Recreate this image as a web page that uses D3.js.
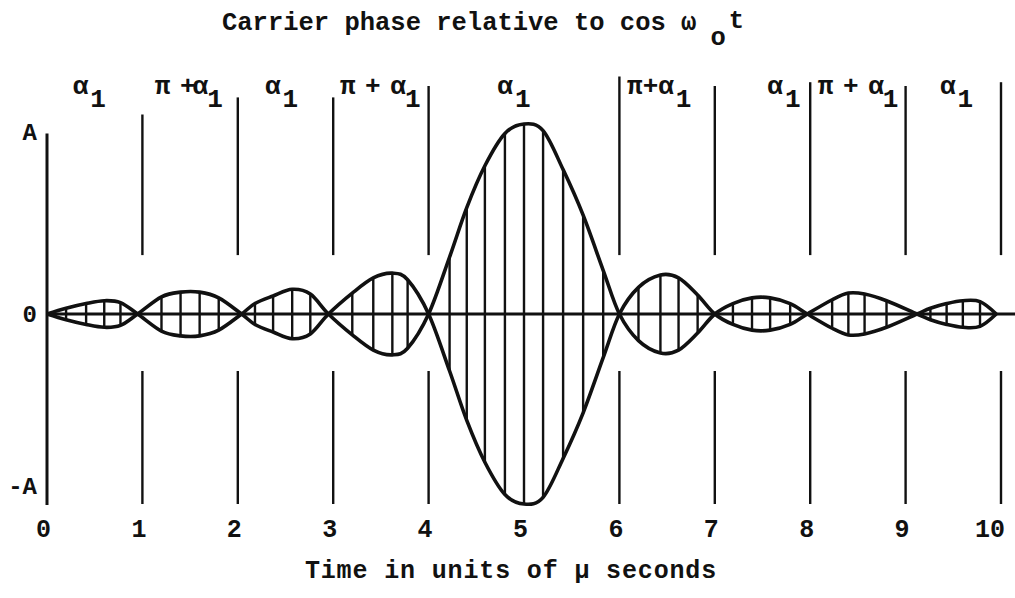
<!DOCTYPE html>
<html>
<head>
<meta charset="utf-8">
<script src="https://cdn.jsdelivr.net/npm/d3@7"></script>
<style>
  html, body { margin: 0; padding: 0; background: #fff; }
  svg { display: block; }
  text { font-family: "Liberation Mono", "Courier New", monospace; font-weight: bold; fill: #111; }
</style>
</head>
<body>
<svg id="chart" width="1015" height="598"></svg>
<script>
// Envelope knots: time in µs and signed envelope amplitude (in units of A).
// Each non-zero knot is also one carrier cycle drawn as a vertical stroke.
const envTime = [
  0, 0.2, 0.41, 0.6, 0.77, 0.95,
  1.2, 1.4, 1.6, 1.8, 2.04,
  2.18, 2.37, 2.57, 2.76, 2.95,
  3.2, 3.42, 3.62, 3.78, 4.0,
  4.22, 4.4, 4.59, 4.8, 5.0, 5.2, 5.41, 5.62, 5.83, 6.0,
  6.2, 6.43, 6.62, 6.82, 7.0,
  7.19, 7.39, 7.58, 7.79, 7.97,
  8.23, 8.4, 8.57, 8.8, 9.12,
  9.26, 9.43, 9.6, 9.78, 9.95
];
const envAmp = [
  0, 0.03, 0.055, 0.07, 0.06, 0,
  -0.09, -0.115, -0.115, -0.085, 0,
  0.055, 0.095, 0.13, 0.105, 0,
  -0.11, -0.19, -0.215, -0.18, 0,
  0.3, 0.56, 0.78, 0.95, 1.0, 0.965, 0.76, 0.52, 0.23, 0,
  -0.14, -0.205, -0.19, -0.1, 0,
  0.055, 0.085, 0.085, 0.055, 0,
  -0.075, -0.11, -0.105, -0.07, 0,
  0.03, 0.055, 0.07, 0.065, 0
];

// Axis ticks
const timeTicks = [0, 1, 2, 3, 4, 5, 6, 7, 8, 9, 10];
const ampTicks = [1, 0, -1];
const ampTickLabels = ["A", "0", "-A"];

// Phase-interval dividers (time) and how high each one reaches (units of A)
const dividerTimes = [1, 2, 3, 4, 6, 7, 8, 9, 10];
const dividerReach = [1.05, 1.14, 1.14, 1.2, 1.25, 1.2, 1.22, 1.2, 1.22];

// Carrier phase written over each interval, and where it starts (time)
const phaseText = ["α", "π +α", "α", "π + α", "α", "π+α", "α", "π + α", "α"];
const phaseSub = "1";
const phaseAt = [0.27, 1.13, 2.285, 3.07, 4.72, 6.08, 7.55, 8.08, 9.36];

const W = 1015, H = 598;
const svg = d3.select("#chart");

const x = d3.scaleLinear().domain([0, 10]).range([47, 1001]);
const y = d3.scaleLinear().domain([-1, 1]).range([504, 124]);

const ink = "#111";

// Zero line across the plot
svg.append("line")
  .attr("x1", x(0)).attr("x2", W)
  .attr("y1", y(0)).attr("y2", y(0))
  .attr("stroke", ink).attr("stroke-width", 3.2);

// Amplitude axis line
svg.append("line")
  .attr("x1", x(0)).attr("x2", x(0))
  .attr("y1", y(0.95)).attr("y2", y(-1.005))
  .attr("stroke", ink).attr("stroke-width", 3);

// Dividers between phase intervals (upper and lower pieces)
const div = svg.append("g").attr("stroke", ink).attr("stroke-width", 2.4);
dividerTimes.forEach((t, i) => {
  div.append("line")
    .attr("x1", x(t)).attr("x2", x(t))
    .attr("y1", y(dividerReach[i])).attr("y2", y(0.31));
  div.append("line")
    .attr("x1", x(t)).attr("x2", x(t))
    .attr("y1", y(-0.3)).attr("y2", y(-1.0));
});

// Carrier strokes inside the envelope
const knots = envTime.map((t, i) => ({ t, a: envAmp[i] }));
svg.append("g").attr("stroke", ink).attr("stroke-width", 2.4)
  .selectAll("line")
  .data(knots.filter(d => d.a !== 0))
  .join("line")
  .attr("x1", d => x(d.t)).attr("x2", d => x(d.t))
  .attr("y1", d => y(Math.abs(d.a))).attr("y2", d => y(-Math.abs(d.a)));

// Envelope: the signed curve and its mirror
const env = d3.line()
  .x(d => x(d.t))
  .y(d => y(d.a))
  .curve(d3.curveCatmullRom.alpha(0));
[1, -1].forEach(s => {
  svg.append("path")
    .datum(knots.map(d => ({ t: d.t, a: s * d.a })))
    .attr("d", env)
    .attr("fill", "none")
    .attr("stroke", ink)
    .attr("stroke-width", 3.6)
    .attr("stroke-linejoin", "round");
});

// Time axis labels
const xAxis = svg.append("g")
  .attr("transform", `translate(0,537)`)
  .call(d3.axisBottom(x).tickValues(timeTicks).tickSize(0).tickPadding(0));
xAxis.select(".domain").remove();
xAxis.attr("font-size", null).attr("font-family", null);
xAxis.selectAll("text")
  .attr("y", 0).attr("dy", 0).attr("dx", 3.5)
  .attr("text-anchor", "end")
  .style("font-size", "25px")
  .attr("fill", ink);

// Amplitude axis labels
const yAxis = svg.append("g")
  .attr("transform", `translate(37,0)`)
  .call(d3.axisLeft(y).tickValues(ampTicks)
    .tickFormat((d, i) => ampTickLabels[i]).tickSize(0).tickPadding(0));
yAxis.select(".domain").remove();
yAxis.attr("font-size", null).attr("font-family", null);
yAxis.selectAll("text")
  .attr("dy", d => d === 1 ? 15 : d === -1 ? -11 : 7.5)
  .attr("text-anchor", "end")
  .style("font-size", "24px")
  .attr("fill", ink);

// Phase labels over each interval
const ph = svg.append("g").style("font-size", "26px");
phaseText.forEach((s, i) => {
  const t = ph.append("text").attr("x", x(phaseAt[i])).attr("y", 94);
  t.append("tspan").text(s).style("letter-spacing", s.includes(" ") ? "-3px" : "0px");
  t.append("tspan").attr("dx", 2).attr("dy", 13).text(phaseSub);
});

// Title
const title = svg.append("text").attr("x", 222).attr("y", 30).style("font-size", "25.5px");
title.append("tspan").text("Carrier phase relative to cos ω");
title.append("tspan").attr("dx", 14).attr("dy", 15).text("o");
title.append("tspan").attr("dx", 3).attr("dy", -17).text("t");

// Time axis title
svg.append("text")
  .attr("x", 511).attr("y", 578)
  .attr("text-anchor", "middle")
  .style("font-size", "25px")
  .style("letter-spacing", "0.85px")
  .text("Time in units of μ seconds");
</script>
</body>
</html>
